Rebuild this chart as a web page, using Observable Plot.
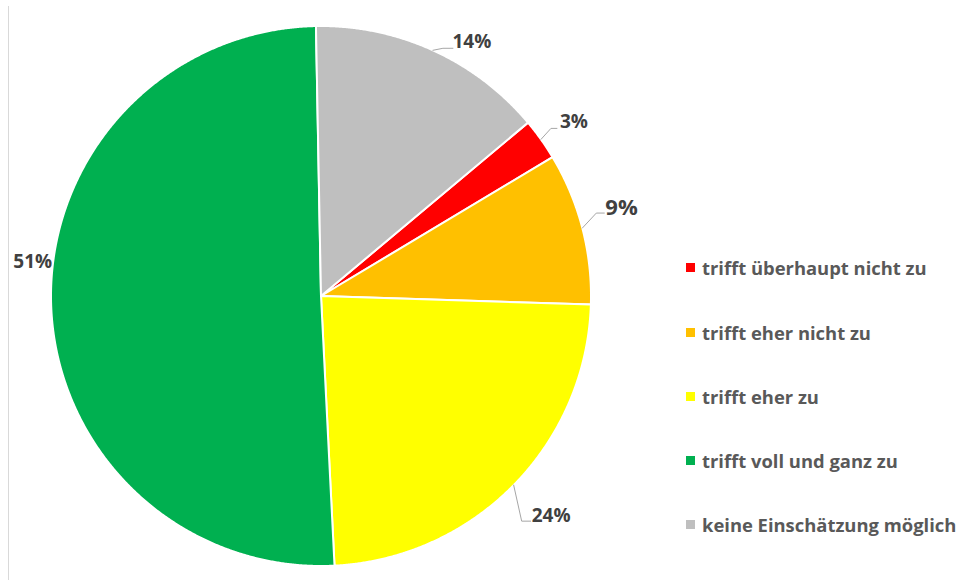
<!DOCTYPE html>
<html>
<head>
<meta charset="utf-8">
<script src="https://cdn.jsdelivr.net/npm/d3@7"></script>
<script src="https://cdn.jsdelivr.net/npm/@observablehq/plot@0.6"></script>
<style>
  html, body { margin: 0; padding: 0; background: #fff; }
  #wrap { position: relative; width: 967px; height: 580px; overflow: hidden; }
  #frame { position: absolute; left: 8px; top: 6px; bottom: 0; border-left: 1.5px solid #d9d9d9; }
  #legend { position: absolute; left: 686px; top: 0; font-family: "Open Sans", Lato, sans-serif; font-weight: bold; font-size: 18.4px; color: #595959; }
  .item { position: absolute; left: 0; white-space: nowrap; display: flex; align-items: center; height: 24px; transform: translateY(-12px); }
  .sw { width: 9px; height: 9px; margin-right: 7px; flex: none; }
</style>
</head>
<body>
<div id="wrap"><div id="frame"></div><div id="legend"></div></div>
<script>
// ---- data ----
const categories = ["trifft überhaupt nicht zu", "trifft eher nicht zu", "trifft eher zu", "trifft voll und ganz zu", "keine Einschätzung möglich"];
const values = [2.5, 9.1, 23.7, 50.5, 14.2];
const colors = ["#ff0000", "#ffc000", "#ffff00", "#00b050", "#bfbfbf"];
const firstSliceAngle = 50.05; // degrees, clockwise from 12 o'clock

// ---- layout (pixels) ----
const R = 270, CX = 320.5, CY = 295.5;
const labelLayout = [
  {bend: [10, -11], end: [16, -11], text: [19, -17], size: 19, anchor: "start"},
  {bend: [14, -15], end: [22, -15], text: [23, -20], size: 22, anchor: "start"},
  {bend: [8, 36], end: [17, 36], text: [18, 31], size: 19, anchor: "start"},
  {bend: null, end: null, text: [1, -43], size: 19, anchor: "end"},
  {bend: [10, -2], end: [20, -2], text: [19.5, -8], size: 19, anchor: "start"}
];
const legendY = [267, 332, 396, 460, 524];

const a0 = firstSliceAngle * Math.PI / 180;
const arcs = d3.pie().sort(null).startAngle(a0).endAngle(a0 + 2 * Math.PI)(values);

// polygon points for each slice in unit coords (y up)
const pts = [];
arcs.forEach((a, i) => {
  const cat = categories[i];
  pts.push({cat, x: 0, y: 0});
  const n = Math.max(2, Math.ceil((a.endAngle - a.startAngle) / (0.25 * Math.PI / 180)));
  for (let k = 0; k <= n; k++) {
    const t = a.startAngle + (a.endAngle - a.startAngle) * k / n;
    pts.push({cat, x: Math.sin(t), y: Math.cos(t)});
  }
});

const px = (d) => d / R; // pixel offset to unit
const leaders = [];
const labels = [];
arcs.forEach((a, i) => {
  const m = (a.startAngle + a.endAngle) / 2;
  const ex = Math.sin(m), ey = Math.cos(m);
  const L = labelLayout[i];
  if (L.bend) {
    leaders.push({id: i, x: ex, y: ey});
    leaders.push({id: i, x: ex + px(L.bend[0]), y: ey - px(L.bend[1])});
    leaders.push({id: i, x: ex + px(L.end[0]), y: ey - px(L.end[1])});
  }
  labels.push({
    text: Math.round(values[i]) + "%",
    x: ex + px(L.text[0]), y: ey - px(L.text[1]),
    size: L.size, anchor: L.anchor
  });
});

const chart = Plot.plot({
  width: 967, height: 580, margin: 0,
  x: {type: "linear", domain: [-1, 1], range: [CX - R, CX + R], axis: null},
  y: {type: "linear", domain: [-1, 1], range: [CY + R, CY - R], axis: null},
  color: {domain: categories, range: colors},
  style: {fontFamily: "'Open Sans', Lato, sans-serif", background: "transparent"},
  marks: [
    Plot.line(pts, {x: "x", y: "y", z: "cat", fill: "cat", stroke: "white", strokeWidth: 2, curve: "linear-closed", strokeLinejoin: "round"}),
    Plot.line(leaders, {x: "x", y: "y", z: "id", stroke: "#a6a6a6", strokeWidth: 1}),
    Plot.text(labels.filter(d => d.anchor === "start"), {x: "x", y: "y", text: "text", fontSize: "size", textAnchor: "start", fontWeight: "bold", fill: "#404040"}),
    Plot.text(labels.filter(d => d.anchor === "end"), {x: "x", y: "y", text: "text", fontSize: "size", textAnchor: "end", fontWeight: "bold", fill: "#404040"})
  ]
});
chart.style.position = "absolute";
chart.style.left = "0";
chart.style.top = "0";
document.getElementById("wrap").prepend(chart);

const legend = document.getElementById("legend");
categories.forEach((c, i) => {
  const it = document.createElement("div");
  it.className = "item";
  it.style.top = legendY[i] + "px";
  const sw = document.createElement("span");
  sw.className = "sw";
  sw.style.background = colors[i];
  const tx = document.createElement("span");
  tx.textContent = c;
  it.appendChild(sw); it.appendChild(tx);
  legend.appendChild(it);
});
</script>
</body>
</html>
